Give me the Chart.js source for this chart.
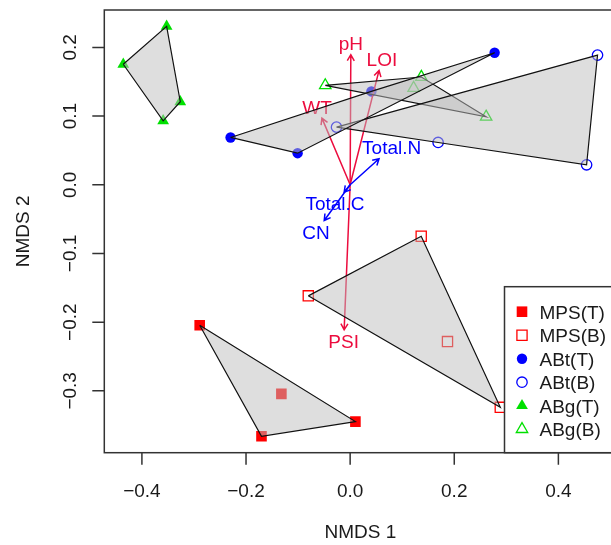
<!DOCTYPE html>
<html>
<head>
<meta charset="utf-8">
<script src="https://cdn.jsdelivr.net/npm/chart.js@4"></script>
<style>
  html, body { margin: 0; padding: 0; background: #fff; overflow: hidden; }
  #wrap { width: 625px; height: 545px; }
</style>
</head>
<body>
<div id="wrap"><canvas id="nmds" width="625" height="545"></canvas></div>
<script>
// site scores [NMDS1, NMDS2] per group
const groupNames = ['MPS(T)', 'MPS(B)', 'ABt(T)', 'ABt(B)', 'ABg(T)', 'ABg(B)'];
const mpsT = [[-0.289, -0.2045], [-0.1321, -0.3044], [0.0101, -0.3448], [-0.1703, -0.3662]];
const mpsB = [[0.1365, -0.0749], [-0.0804, -0.1617], [0.187, -0.2283], [0.2884, -0.324]];
const abtT = [[-0.2297, 0.0689], [-0.1009, 0.046], [0.2775, 0.1923], [0.0408, 0.1359]];
const abtB = [[-0.0262, 0.0839], [0.169, 0.0616], [0.4752, 0.1888], [0.4542, 0.0291]];
const abgT = [[-0.3525, 0.2306], [-0.4358, 0.1755], [-0.3263, 0.1209], [-0.3592, 0.0931]];
const abgB = [[-0.0478, 0.1448], [0.1368, 0.1569], [0.1219, 0.1409], [0.2612, 0.099]];
const groupPoints = [mpsT, mpsB, abtT, abtB, abgT, abgB];

// envfit vectors
const envNames = ['pH', 'LOI', 'WT', 'PSI', 'Total.N', 'Total.C', 'CN'];
const envX = [0.0013, 0.0555, -0.0542, -0.0115, 0.0555, -0.0115, -0.0498];
const envY = [0.1894, 0.1665, 0.097, -0.2112, 0.0379, -0.0108, -0.052];

const xTicks = [-0.4, -0.2, 0.0, 0.2, 0.4];
const yTicks = [-0.3, -0.2, -0.1, 0.0, 0.1, 0.2];

const RED = '#ff0000', BLUE = '#0000ff', GREEN = '#00e000';
const ENV_RED = '#ec0c3e';
const envColors = [ENV_RED, ENV_RED, ENV_RED, ENV_RED, BLUE, BLUE, BLUE];
const groupStyle = [
  { color: RED, shape: 'rect', radius: 7.5, filled: true },
  { color: RED, shape: 'rect', radius: 7.2, filled: false },
  { color: BLUE, shape: 'circle', radius: 5.2, filled: true },
  { color: BLUE, shape: 'circle', radius: 5.2, filled: false },
  { color: GREEN, shape: 'triangle', radius: 6.8, filled: true },
  { color: GREEN, shape: 'triangle', radius: 6.6, filled: false }
];

const FONT_PX = 19;
const FONT = FONT_PX + 'px "Liberation Sans", Arial, sans-serif';
const CAP = FONT_PX * 0.716;
const AXIS_COL = '#333';

// axis limits padded by 4% like R's default
const extend = (vals) => {
  const lo = Math.min(...vals), hi = Math.max(...vals), pad = (hi - lo) * 0.04;
  return [lo - pad, hi + pad];
};
const allPts = groupPoints.flat();
const [xMin, xMax] = extend(allPts.map((p) => p[0]));
const [yMin, yMax] = extend(allPts.map((p) => p[1]));

// convex hull (monotone chain)
const convexHull = (pts) => {
  const p = pts.slice().sort((a, b) => a[0] - b[0] || a[1] - b[1]);
  const cross = (o, a, b) => (a[0] - o[0]) * (b[1] - o[1]) - (a[1] - o[1]) * (b[0] - o[0]);
  const lower = [], upper = [];
  for (const q of p) {
    while (lower.length >= 2 && cross(lower[lower.length - 2], lower[lower.length - 1], q) <= 0) lower.pop();
    lower.push(q);
  }
  for (const q of p.slice().reverse()) {
    while (upper.length >= 2 && cross(upper[upper.length - 2], upper[upper.length - 1], q) <= 0) upper.pop();
    upper.push(q);
  }
  return lower.slice(0, -1).concat(upper.slice(0, -1));
};

const fmt = (v) => {
  const s = Math.abs(v).toFixed(1);
  return v < -1e-9 ? '\u2212' + s : s;
};

// text with its capital letters centred vertically on y
const capText = (ctx, str, x, y, align) => {
  ctx.textAlign = align || 'center';
  ctx.textBaseline = 'alphabetic';
  ctx.fillText(str, x, y + CAP / 2);
};

const drawArrow = (ctx, x0, y0, x1, y1, color) => {
  const ang = Math.atan2(y1 - y0, x1 - x0);
  const len = 7, spread = Math.PI / 6;
  ctx.strokeStyle = color;
  ctx.lineWidth = 1.5;
  ctx.beginPath();
  ctx.moveTo(x0, y0);
  ctx.lineTo(x1, y1);
  ctx.moveTo(x1 - len * Math.cos(ang - spread), y1 - len * Math.sin(ang - spread));
  ctx.lineTo(x1, y1);
  ctx.lineTo(x1 - len * Math.cos(ang + spread), y1 - len * Math.sin(ang + spread));
  ctx.stroke();
};

// env arrows sit above the points and below the hulls
const envfitPlugin = {
  id: 'envfit',
  afterDatasetDraw(chart, args) {
    if (args.index !== 0) return;
    const { ctx, scales: { x, y } } = chart;
    const ox = x.getPixelForValue(0), oy = y.getPixelForValue(0);
    ctx.save();
    ctx.font = FONT;
    envNames.forEach((name, i) => {
      const tx = x.getPixelForValue(envX[i]), ty = y.getPixelForValue(envY[i]);
      drawArrow(ctx, ox, oy, tx, ty, envColors[i]);
      // push label out along the arrow so it clears the head
      const w = ctx.measureText(name).width, h = FONT_PX * 0.8;
      const dx = tx - ox, dy = oy - ty;
      let offX = Math.sign(dx) * (w / 2 + h / 4);
      let offY = Math.sign(dy) * 0.75 * h;
      const b = dy / dx;
      const move = offY / b;
      if (isFinite(move) && Math.abs(move) <= Math.abs(offX)) offX = move;
      else offY = b * offX;
      ctx.fillStyle = envColors[i];
      capText(ctx, name, tx + offX, ty - offY);
    });
    ctx.restore();
  }
};

const framePlugin = {
  id: 'frame',
  afterDraw(chart) {
    const { ctx, chartArea: a, scales: { x, y } } = chart;
    ctx.save();
    ctx.strokeStyle = AXIS_COL;
    ctx.lineWidth = 1.5;
    ctx.strokeRect(a.left, a.top, a.right - a.left, a.bottom - a.top);

    ctx.font = FONT;
    ctx.fillStyle = '#1a1a1a';
    ctx.beginPath();
    xTicks.forEach((v) => {
      const px = x.getPixelForValue(v);
      ctx.moveTo(px, a.bottom);
      ctx.lineTo(px, a.bottom + 12);
    });
    yTicks.forEach((v) => {
      const py = y.getPixelForValue(v);
      ctx.moveTo(a.left, py);
      ctx.lineTo(a.left - 12, py);
    });
    ctx.stroke();

    xTicks.forEach((v) => capText(ctx, fmt(v), x.getPixelForValue(v), a.bottom + 37));
    yTicks.forEach((v) => {
      ctx.save();
      ctx.translate(a.left - 35, y.getPixelForValue(v));
      ctx.rotate(-Math.PI / 2);
      capText(ctx, fmt(v), 0, 0);
      ctx.restore();
    });

    capText(ctx, 'NMDS 1', (a.left + a.right) / 2, a.bottom + 78);
    ctx.save();
    ctx.translate(a.left - 82, (a.top + a.bottom) / 2);
    ctx.rotate(-Math.PI / 2);
    capText(ctx, 'NMDS 2', 0, 0);
    ctx.restore();

    // legend, bottom right corner of the plot
    const lx = a.right - 112, ly = a.bottom - 166;
    ctx.fillStyle = '#fff';
    ctx.fillRect(lx, ly, a.right - lx, a.bottom - ly);
    ctx.strokeRect(lx, ly, a.right - lx, a.bottom - ly);
    groupNames.forEach((name, i) => {
      const s = groupStyle[i];
      const ry = ly + 25 + i * 23.5;
      ctx.fillStyle = s.filled ? s.color : 'rgba(0,0,0,0)';
      ctx.strokeStyle = s.color;
      ctx.lineWidth = s.filled ? 0 : 1.3;
      Chart.helpers.drawPoint(ctx, {
        pointStyle: s.shape, radius: s.radius, rotation: 0, borderWidth: s.filled ? 0 : 1.3
      }, lx + 17.5, ry);
      ctx.fillStyle = '#1a1a1a';
      capText(ctx, name, lx + 35, ry, 'left');
    });
    ctx.restore();
  }
};

const pointSets = groupNames.map((name, i) => {
  const s = groupStyle[i];
  return {
    label: name,
    data: groupPoints[i].map(([px, py]) => ({ x: px, y: py })),
    pointStyle: s.shape,
    pointRadius: s.radius,
    backgroundColor: s.filled ? s.color : 'rgba(0,0,0,0)',
    borderColor: s.color,
    borderWidth: s.filled ? 0 : 1.3,
    order: 2
  };
});

const hullSets = groupPoints.map((pts, i) => {
  const h = convexHull(pts);
  return {
    label: groupNames[i] + ' hull',
    data: h.concat([h[0]]).map(([px, py]) => ({ x: px, y: py })),
    showLine: true,
    fill: 'shape',
    backgroundColor: 'rgba(190,190,190,0.5)',
    borderColor: '#111',
    borderWidth: 1.2,
    pointRadius: 0,
    tension: 0,
    order: 1
  };
});

new Chart(document.getElementById('nmds'), {
  type: 'scatter',
  data: { datasets: pointSets.concat(hullSets) },
  options: {
    responsive: false,
    animation: false,
    events: [],
    layout: { padding: { left: 104.3, top: 10, right: 7, bottom: 92.3 } },
    scales: {
      x: { type: 'linear', display: false, min: xMin, max: xMax },
      y: { type: 'linear', display: false, min: yMin, max: yMax }
    },
    plugins: {
      legend: { display: false },
      tooltip: { enabled: false }
    }
  },
  plugins: [envfitPlugin, framePlugin]
});
</script>
</body>
</html>
